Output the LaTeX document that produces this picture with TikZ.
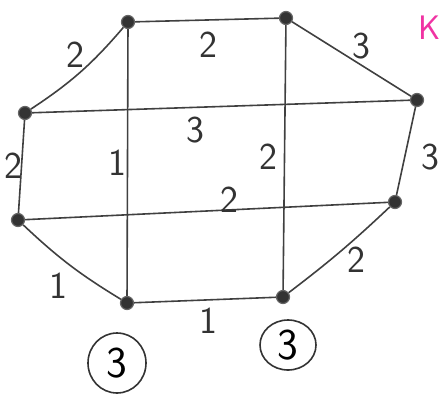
\documentclass[tikz,border=0pt]{standalone}
\usepackage{tikz}
\usetikzlibrary{shapes.geometric}
\begin{document}
\begin{tikzpicture}[x=0.5pt,y=-0.5pt,
  vtx/.style={circle,fill=black!80,draw=black!60,line width=0.6pt,inner sep=0pt,minimum size=6.5pt},
  edge/.style={draw=black!75,line width=0.8pt},
  wlab/.style={font=\sffamily\fontsize{19}{19}\selectfont,text=black!80},
  circ/.style={ellipse,draw=black!80,line width=0.8pt,inner sep=0pt,font=\sffamily\fontsize{22}{22}\selectfont}]
\useasboundingbox (0,0) rectangle (443,401);
\node[vtx] (A) at (128,22) {};
\node[vtx] (B) at (286,18) {};
\node[vtx] (C) at (25,113) {};
\node[vtx] (D) at (417,100) {};
\node[vtx] (E) at (18,220) {};
\node[vtx] (F) at (395,202) {};
\node[vtx] (G) at (127,303) {};
\node[vtx] (H) at (283,297) {};
\draw[edge] (A) -- (B);
\draw[edge] (B) -- (D);
\draw[edge] (A) to[bend left=8] (C);
\draw[edge] (C) -- (D);
\draw[edge] (C) -- (E);
\draw[edge] (D) -- (F);
\draw[edge] (E) -- (F);
\draw[edge] (E) to[bend right=6] (G);
\draw[edge] (G) -- (H);
\draw[edge] (H) to[bend right=3] (F);
\draw[edge] (A) -- (G);
\draw[edge] (B) -- (H);
\node[wlab] (lab) at (208,45) {2};
\node[wlab] (lbd) at (361,46) {3};
\node[wlab] (lac) at (75,55) {2};
\node[wlab] (lcd) at (195,130) {3};
\node[wlab] (lce) at (13,166) {2};
\node[wlab] (ldf) at (430,157) {3};
\node[wlab] (lef) at (229,200) {2};
\node[wlab] (leg) at (58,286) {1};
\node[wlab] (lgh) at (208,321) {1};
\node[wlab] (lhf) at (356,260) {2};
\node[wlab] (lag) at (117,163) {1};
\node[wlab] (lbh) at (268,157) {2};
\node[circ,minimum width=29pt,minimum height=30pt] (c1) at (117,363) {3};
\node[circ,minimum width=28pt,minimum height=25pt] (c2) at (288,345) {3};
\node[font=\sffamily\fontsize{17}{17}\selectfont,text=magenta!80] (k) at (430,28) {K};
\end{tikzpicture}
\end{document}
